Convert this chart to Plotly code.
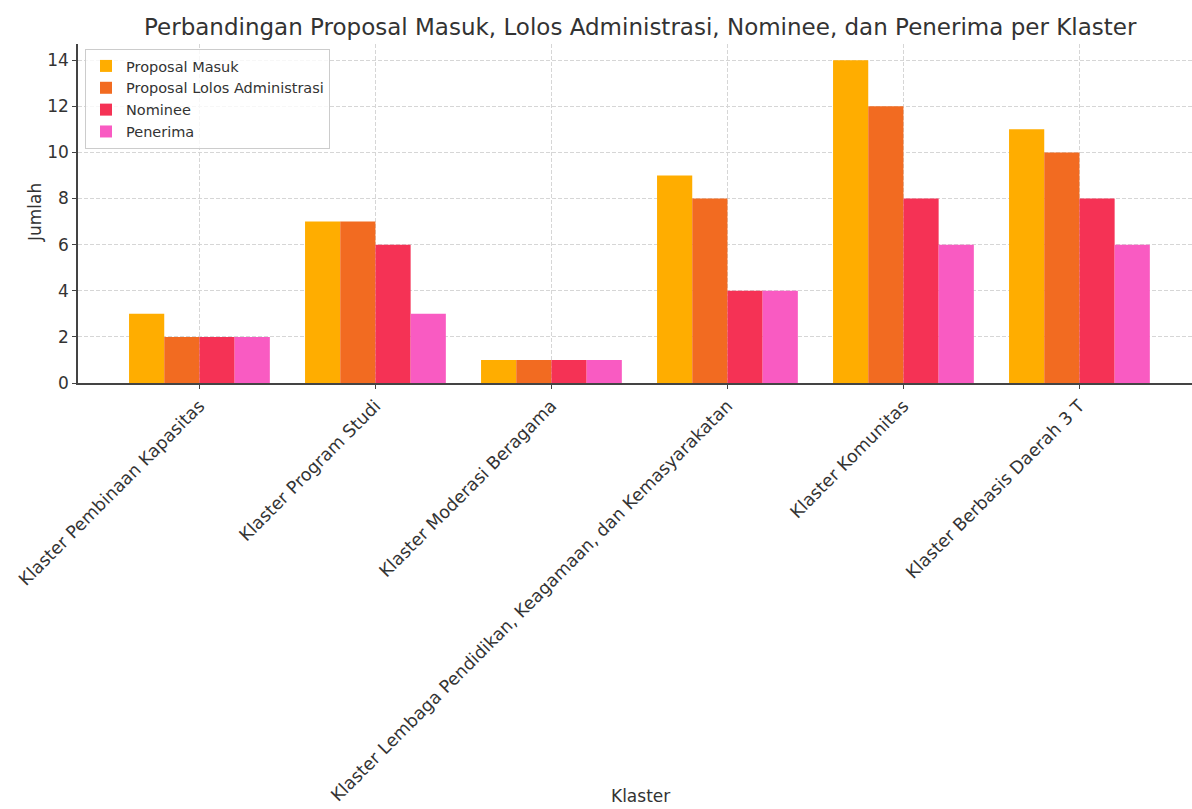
import plotly.graph_objects as go

categories = [
    "Klaster Pembinaan Kapasitas",
    "Klaster Program Studi",
    "Klaster Moderasi Beragama",
    "Klaster Lembaga Pendidikan, Keagamaan, dan Kemasyarakatan",
    "Klaster Komunitas",
    "Klaster Berbasis Daerah 3 T",
]
proposal_masuk = [3, 7, 1, 9, 14, 11]
lolos_administrasi = [2, 7, 1, 8, 12, 10]
nominee = [2, 6, 1, 4, 8, 8]
penerima = [2, 3, 1, 4, 6, 6]

series = [
    ("Proposal Masuk", proposal_masuk, "#FFAD00"),
    ("Proposal Lolos Administrasi", lolos_administrasi, "#F26B21"),
    ("Nominee", nominee, "#F53255"),
    ("Penerima", penerima, "#F95BC2"),
]

FONT = "DejaVu Sans"
TXT = "#333333"

fig = go.Figure()
for name, vals, col in series:
    fig.add_trace(go.Bar(x=categories, y=vals, name=name, marker_color=col,
                         marker_line_width=0))

W, H = 1192, 809
L, R, T, B = 78, 0, 44, 426
pw = W - L - R
ph = H - T - B

fig.update_layout(
    width=W, height=H,
    margin=dict(l=L, r=R, t=T, b=B, pad=0),
    paper_bgcolor="white", plot_bgcolor="white",
    barmode="group", bargap=0.2, bargroupgap=0,
    font=dict(family=FONT, color=TXT, size=17),
    showlegend=True,
    legend=dict(
        x=(85 - L) / pw, y=(383 - 49) / ph, xanchor="left", yanchor="top",
        bgcolor="rgba(255,255,255,0.8)", bordercolor="#cccccc", borderwidth=1,
        font=dict(family=FONT, size=14.5, color=TXT),
        tracegroupgap=0, itemwidth=30,
    ),
    xaxis=dict(
        range=[-0.69, (W - L) / 176 - 0.69],
        tickangle=-45, tickfont=dict(family=FONT, size=17.5, color=TXT),
        showgrid=True, gridcolor="#d6d6d6", griddash="4px,2px", gridwidth=1,
        showline=True, linecolor="#444444", linewidth=1.5,
        ticks="outside", ticklen=4, tickcolor="#444444",
        zeroline=False,
    ),
    yaxis=dict(
        range=[0, 14.7], dtick=2,
        tickfont=dict(family=FONT, size=17, color=TXT),
        showgrid=True, gridcolor="#d6d6d6", griddash="4px,2px", gridwidth=1,
        showline=True, linecolor="#444444", linewidth=1.5,
        ticks="outside", ticklen=4, tickcolor="#444444",
        zeroline=False,
    ),
    annotations=[
        dict(text="Perbandingan Proposal Masuk, Lolos Administrasi, Nominee, dan Penerima per Klaster",
             xref="paper", yref="paper", x=(640 - L) / pw, y=(383 - 27) / ph,
             xanchor="center", yanchor="middle", showarrow=False,
             font=dict(family=FONT, size=23, color=TXT)),
        dict(text="Klaster", xref="paper", yref="paper",
             x=(640 - L) / pw, y=(383 - 808) / ph,
             xanchor="center", yanchor="bottom", showarrow=False,
             font=dict(family=FONT, size=17, color=TXT)),
        dict(text="Jumlah", xref="paper", yref="paper",
             x=(35 - L) / pw, y=(383 - 213) / ph, textangle=-90,
             xanchor="center", yanchor="middle", showarrow=False,
             font=dict(family=FONT, size=17, color=TXT)),
    ],
)

fig.write_html("out.html")
